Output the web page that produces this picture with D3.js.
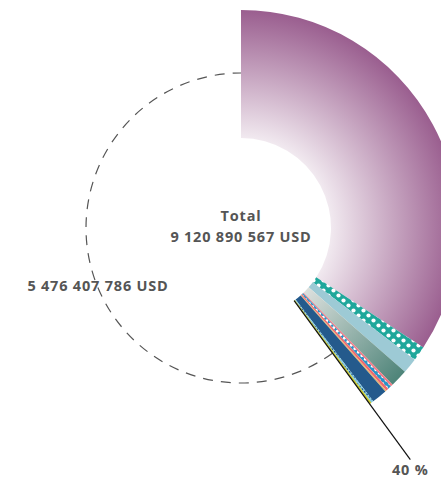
<!DOCTYPE html>
<html>
<head>
<meta charset="utf-8">
<script src="https://cdn.jsdelivr.net/npm/d3@7"></script>
<style>
  html, body { margin: 0; padding: 0; background: #fff; }
  svg { display: block; }
  text { font-family: "Open Sans", "DejaVu Sans", sans-serif; font-weight: 700; fill: #555; letter-spacing: 0.8px; }
</style>
</head>
<body>
<svg id="chart" width="441" height="481"></svg>
<script>
// Amounts in USD, clockwise from 12 o'clock; the last entry is the unallocated remainder.
const segments = ["s1", "s2", "s3", "s4", "s5", "s6", "s7", "s8", "s9", "s10", "s11", "rest"];
const amounts = [3122700000, 98800000, 103900000, 119000000, 15200000, 24000000, 17700000,
                 8900000, 103900000, 15200000, 14982781, 5476407786];
const fills = ["url(#gPurple)", "url(#pTeal)", "#9dcad5", "url(#gGreen)", "#f27a86",
               "url(#pBlue)", "#f0696f", "#e7b46a", "#245a8c", "url(#pLight)", "#c7c92b", "none"];
const totalLabel = ["Total", "9 120 890 567 USD"];
const restLabel = "5 476 407 786 USD";
const shareLabel = "40 %";

const W = 441, H = 481, cx = 241, cy = 228;
const rIn = 90, rOut = 218, rDash = 155, rLeader = 287;

const svg = d3.select("#chart");
const defs = svg.append("defs");

// radial shading for the main slice and the grey-green slice (centred on the ring)
const gp = defs.append("radialGradient").attr("id", "gPurple")
  .attr("gradientUnits", "userSpaceOnUse").attr("cx", 0).attr("cy", 0).attr("r", rOut);
gp.append("stop").attr("offset", 0.38).attr("stop-color", "#f6f1f5");
gp.append("stop").attr("offset", 1).attr("stop-color", "#9a5e8f");

const gg = defs.append("radialGradient").attr("id", "gGreen")
  .attr("gradientUnits", "userSpaceOnUse").attr("cx", 0).attr("cy", 0).attr("r", rOut);
gg.append("stop").attr("offset", 0.4).attr("stop-color", "#dfe2df");
gg.append("stop").attr("offset", 1).attr("stop-color", "#4e8479");

// dotted fills
function dots(id, bg, dot, size, rad) {
  const p = defs.append("pattern").attr("id", id).attr("patternUnits", "userSpaceOnUse")
    .attr("width", size).attr("height", size);
  p.append("rect").attr("width", size).attr("height", size).attr("fill", bg);
  p.append("circle").attr("cx", size / 4).attr("cy", size / 4).attr("r", rad).attr("fill", dot);
  p.append("circle").attr("cx", size * 3 / 4).attr("cy", size * 3 / 4).attr("r", rad).attr("fill", dot);
}
dots("pTeal", "#1fa79b", "#ffffff", 10, 2.1);
dots("pBlue", "#2a93c6", "#ffffff", 7, 1.4);
dots("pLight", "#86cbe0", "#245a8c", 5, 1.0);

const pie = d3.pie().sort(null).value(d => d)(amounts);
const arc = d3.arc().innerRadius(rIn).outerRadius(rOut);

const g = svg.append("g").attr("transform", `translate(${cx},${cy})`);

g.selectAll("path.slice")
  .data(pie.slice(0, -1))
  .join("path")
  .attr("class", "slice")
  .attr("d", arc)
  .attr("fill", (d, i) => fills[i]);

// remainder shown as a dashed ring
const rest = pie[pie.length - 1];
const dp = d3.path();
dp.arc(0, 0, rDash, rest.startAngle - Math.PI / 2, rest.endAngle - Math.PI / 2);
g.append("path").attr("d", dp.toString())
  .attr("fill", "none").attr("stroke", "#555").attr("stroke-width", 1.2)
  .attr("stroke-dasharray", "10,8");

// leader along the boundary of the allocated part
const a = rest.startAngle;
g.append("line")
  .attr("x1", rIn * Math.sin(a)).attr("y1", -rIn * Math.cos(a))
  .attr("x2", rLeader * Math.sin(a)).attr("y2", -rLeader * Math.cos(a))
  .attr("stroke", "#111").attr("stroke-width", 1.2);

g.append("text").attr("x", rLeader * Math.sin(a)).attr("y", -rLeader * Math.cos(a) + 15)
  .attr("text-anchor", "middle").attr("font-size", 14.5).text(shareLabel);

g.append("text").attr("x", 0).attr("y", -7).attr("text-anchor", "middle")
  .attr("font-size", 14.5).text(totalLabel[0]);
g.append("text").attr("x", 0).attr("y", 14).attr("text-anchor", "middle")
  .attr("font-size", 14.5).text(totalLabel[1]);

g.append("text").attr("x", -143).attr("y", 63).attr("text-anchor", "middle")
  .attr("font-size", 14.5).text(restLabel);
</script>
</body>
</html>
